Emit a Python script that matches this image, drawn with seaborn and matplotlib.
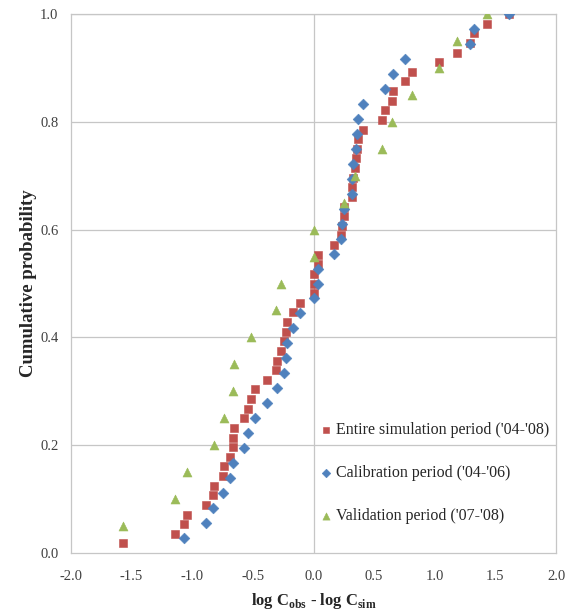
import numpy as np
import pandas as pd
import matplotlib
matplotlib.use("Agg")
import matplotlib.pyplot as plt
import seaborn as sns

# log Cobs - log Csim (sorted per series)
entire = [-1.569, -1.140, -1.068, -1.046, -0.889, -0.829, -0.820, -0.746, -0.738, -0.691,
          -0.666, -0.661, -0.653, -0.571, -0.540, -0.515, -0.480, -0.381, -0.312, -0.298,
          -0.268, -0.243, -0.229, -0.216, -0.169, -0.109, 0.000, 0.004, 0.007, 0.034,
          0.034, 0.169, 0.224, 0.235, 0.249, 0.250, 0.315, 0.320, 0.326, 0.342,
          0.353, 0.359, 0.364, 0.408, 0.562, 0.587, 0.645, 0.656, 0.757, 0.812,
          1.038, 1.186, 1.290, 1.321, 1.431, 1.610]
calibration = [-1.068, -0.889, -0.829, -0.746, -0.691, -0.661, -0.571, -0.540, -0.480, -0.381,
               -0.298, -0.243, -0.229, -0.216, -0.169, -0.109, 0.004, 0.034, 0.034, 0.169,
               0.224, 0.235, 0.249, 0.315, 0.320, 0.326, 0.353, 0.359, 0.364, 0.408,
               0.587, 0.656, 0.757, 1.290, 1.321, 1.610]
validation = [-1.569, -1.140, -1.046, -0.820, -0.738, -0.666, -0.653, -0.515, -0.312, -0.268,
              0.000, 0.007, 0.250, 0.342, 0.562, 0.645, 0.812, 1.038, 1.186, 1.431]

labels = ["Entire simulation period ('04-'08)",
          "Calibration period ('04-'06)",
          "Validation period ('07-'08)"]
colors = ["#C0504D", "#4F81BD", "#9BBB59"]
markers = ["s", "D", "^"]
sizes = [38, 30, 42]

frames = []
for lab, vals in zip(labels, [entire, calibration, validation]):
    d = pd.DataFrame({"diff": vals, "series": lab})
    # empirical cumulative probability (rank / n)
    d["prob"] = d["diff"].rank(method="first") / len(d)
    frames.append(d)
df = pd.concat(frames, ignore_index=True)

sns.set_style("white")
plt.rcParams["font.family"] = ["Liberation Serif", "DejaVu Serif"]
plt.rcParams["mathtext.fontset"] = "custom"
plt.rcParams["mathtext.rm"] = "Liberation Serif"
plt.rcParams["mathtext.bf"] = "Liberation Serif:bold"

fig = plt.figure(figsize=(5.72, 6.13), dpi=100)
ax = fig.add_axes([71 / 572, 1 - 553 / 613, 485 / 572, 539 / 613])

grid_col = "#C6C6C6"
for yv in np.arange(0.2, 1.01, 0.2):
    ax.axhline(yv, color=grid_col, lw=0.9, zorder=0)
ax.axvline(0, color=grid_col, lw=0.9, zorder=0)

for lab, col, mk, sz in zip(labels, colors, markers, sizes):
    sub = df[df["series"] == lab]
    sns.scatterplot(data=sub, x="diff", y="prob", ax=ax, color=col, marker=mk, s=sz,
                    edgecolor=col, linewidth=0.4, label=lab, zorder=3)

ax.set_xlim(-2.0, 2.0)
ax.set_ylim(0.0, 1.0)
ax.set_xticks(np.arange(-2.0, 2.01, 0.5))
ax.set_yticks(np.arange(0.0, 1.01, 0.2))
ax.set_xticklabels([f"{v:.1f}" for v in np.arange(-2.0, 2.01, 0.5)])
ax.set_yticklabels([f"{v:.1f}" for v in np.arange(0.0, 1.01, 0.2)])
ax.tick_params(axis="x", direction="out", length=4, width=0.8, color=grid_col,
               labelsize=10.5, labelcolor="#404040", pad=8)
ax.tick_params(axis="y", length=0, labelsize=10.5, labelcolor="#404040", pad=9)
for sp in ax.spines.values():
    sp.set_color(grid_col)
    sp.set_linewidth(0.9)

ax.set_xlabel(r"log C$_{\mathbf{obs}}$ - log C$_{\mathbf{sim}}$", fontsize=12,
              fontweight="bold", labelpad=6)
ax.set_ylabel("Cumulative probability", fontsize=13.5, fontweight="bold", labelpad=2)

ax.legend(loc="center left", bbox_to_anchor=(0.5, 0.148), frameon=False,
          fontsize=11.5, labelspacing=1.68, handlelength=0.6, handletextpad=0.3,
          markerscale=0.8, borderpad=0)

fig.savefig("out.png", dpi=100)
